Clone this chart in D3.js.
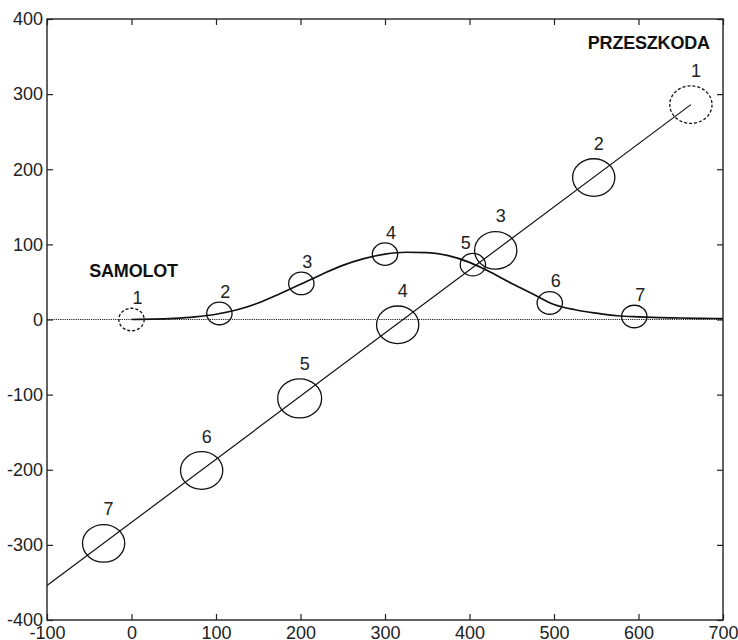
<!DOCTYPE html>
<html>
<head>
<meta charset="utf-8">
<script src="https://cdn.jsdelivr.net/npm/d3@7/dist/d3.min.js"></script>
<style>
  body { margin: 0; background: #fff; }
  svg { display: block; font-family: "Liberation Sans", Arial, sans-serif; }
  .axis text { font-size: 18px; fill: #222; }
  .axis line { stroke: #222; stroke-width: 1.2; }
  .axis path { display: none; }
</style>
</head>
<body>
<div id="chart"></div>
<script>
// axis ticks
var xTicks = [-100, 0, 100, 200, 300, 400, 500, 600, 700];
var yTicks = [-400, -300, -200, -100, 0, 100, 200, 300, 400];

// obstacle (PRZESZKODA) straight track and its positions 1..7
var obsTrackX = [-100, 662];
var obsTrackY = [-354, 286];
var obsX = [662, 547, 431, 315, 199, 83, -33];
var obsY = [286, 189, 92, -7, -105, -201, -298];
var obsR = [25, 25, 25, 25, 26, 25, 25];

// aircraft (SAMOLOT) curved track and its positions 1..7
var acTrackX = [0, 25, 50, 75, 100, 125, 150, 175, 200, 225, 250, 275, 300, 325, 350,
                375, 400, 425, 450, 475, 500, 525, 550, 575, 600, 625, 650, 675, 700];
var acTrackY = [0, 0.5, 1.5, 3.5, 7, 13, 22, 34, 47, 60, 72, 81, 87, 89.5, 89,
                85, 76, 63, 48, 34, 20, 13, 8.5, 5, 3.5, 2.5, 2, 1.5, 1.2];
var acX = [0, 104, 201, 300, 404, 495, 595];
var acY = [0, 8, 48, 87, 73, 22, 4];
var acR = [15, 15, 15, 15, 15, 15, 15];

var labels = ["1", "2", "3", "4", "5", "6", "7"];

var width = 738, height = 640;
var margin = {top: 19, right: 15, bottom: 20, left: 47};

var x = d3.scaleLinear().domain([-100, 700]).range([margin.left, width - margin.right]);
var y = d3.scaleLinear().domain([-400, 400]).range([height - margin.bottom, margin.top]);

var svg = d3.select("#chart").append("svg")
        .attr("width", width)
        .attr("height", height);

// zero reference line
svg.append("line")
        .attr("x1", x(-100)).attr("x2", x(700))
        .attr("y1", y(0)).attr("y2", y(0))
        .attr("stroke", "#222")
        .attr("stroke-width", 1.2)
        .attr("stroke-dasharray", "1.2,1");

var line = d3.line()
        .x(function (d) { return x(d[0]); })
        .y(function (d) { return y(d[1]); });

// obstacle track
svg.append("path")
        .datum(d3.zip(obsTrackX, obsTrackY))
        .attr("d", line)
        .attr("fill", "none")
        .attr("stroke", "#111")
        .attr("stroke-width", 1.2);

// aircraft track
svg.append("path")
        .datum(d3.zip(acTrackX, acTrackY))
        .attr("d", line.curve(d3.curveMonotoneX))
        .attr("fill", "none")
        .attr("stroke", "#111")
        .attr("stroke-width", 1.7);

function drawMarks(xs, ys, rs, cls, dxLabel, dyLabel) {
    var g = svg.append("g").attr("class", cls);
    var pts = xs.map(function (v, i) { return {x: v, y: ys[i], r: rs[i], i: i}; });
    g.selectAll("ellipse")
            .data(pts)
            .enter().append("ellipse")
            .attr("cx", function (d) { return x(d.x); })
            .attr("cy", function (d) { return y(d.y); })
            .attr("rx", function (d) { return x(d.x + d.r) - x(d.x); })
            .attr("ry", function (d) { return y(d.y) - y(d.y + d.r); })
            .attr("fill", "none")
            .attr("stroke", "#111")
            .attr("stroke-width", 1.3)
            .attr("stroke-dasharray", function (d) { return d.i === 0 ? "3,2" : null; });
    g.selectAll("text")
            .data(pts)
            .enter().append("text")
            .attr("x", function (d) { return x(d.x) + dxLabel(d.i); })
            .attr("y", function (d) { return y(d.y) - dyLabel; })
            .attr("text-anchor", "middle")
            .style("font-size", "18px")
            .style("fill", "#222")
            .text(function (d) { return labels[d.i]; });
}

drawMarks(obsX, obsY, obsR, "obstacle", function () { return 5; }, 28);
drawMarks(acX, acY, acR, "aircraft", function (i) { return i === 4 ? -7 : 6; }, 15.5);

// names
svg.append("text")
        .attr("x", x(-50)).attr("y", y(57))
        .style("font-size", "18px")
        .style("font-weight", "bold")
        .style("letter-spacing", "-0.2px")
        .style("fill", "#111")
        .text("SAMOLOT");
svg.append("text")
        .attr("x", x(540)).attr("y", y(360))
        .style("font-size", "18px")
        .style("font-weight", "bold")
        .style("letter-spacing", "-0.2px")
        .style("fill", "#111")
        .text("PRZESZKODA");

// plain hyphen minus, as in the original
var fmt = function (d) { return String(d); };

// axes, ticks pointing inwards
svg.append("g")
        .attr("class", "axis")
        .attr("transform", "translate(0," + y(-400) + ")")
        .call(d3.axisBottom(x).tickValues(xTicks).tickSizeInner(-6).tickSizeOuter(0).tickPadding(6)
                .tickFormat(fmt))
        .selectAll("text").attr("dy", "0.71em");

svg.append("g")
        .attr("class", "axis")
        .attr("transform", "translate(0," + y(400) + ")")
        .call(d3.axisTop(x).tickValues(xTicks).tickSizeInner(-6).tickSizeOuter(0).tickFormat(""));

svg.append("g")
        .attr("class", "axis")
        .attr("transform", "translate(" + x(-100) + ",0)")
        .call(d3.axisLeft(y).tickValues(yTicks).tickSizeInner(-6).tickSizeOuter(0).tickPadding(4)
                .tickFormat(fmt));

svg.append("g")
        .attr("class", "axis")
        .attr("transform", "translate(" + x(700) + ",0)")
        .call(d3.axisRight(y).tickValues(yTicks).tickSizeInner(-6).tickSizeOuter(0).tickFormat(""));

// frame
svg.append("rect")
        .attr("x", x(-100)).attr("y", y(400))
        .attr("width", x(700) - x(-100))
        .attr("height", y(-400) - y(400))
        .attr("fill", "none")
        .attr("stroke", "#222")
        .attr("stroke-width", 1.4);
</script>
</body>
</html>
